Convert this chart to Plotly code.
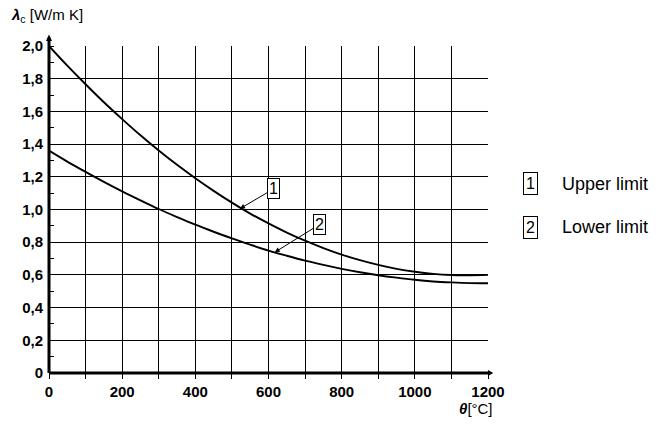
import plotly.graph_objects as go

theta = [0, 50, 100, 150, 200, 250, 300, 350, 400, 450, 500, 550, 600, 650,
         700, 750, 800, 850, 900, 950, 1000, 1050, 1100, 1150, 1200]
upper = [2.000, 1.880, 1.766, 1.656, 1.553, 1.454, 1.361, 1.273, 1.191, 1.114,
         1.042, 0.975, 0.915, 0.859, 0.809, 0.764, 0.724, 0.690, 0.661, 0.637,
         0.619, 0.606, 0.599, 0.598, 0.600]
lower = [1.360, 1.293, 1.230, 1.169, 1.111, 1.056, 1.003, 0.954, 0.907, 0.864,
         0.823, 0.785, 0.749, 0.717, 0.687, 0.661, 0.637, 0.616, 0.598, 0.583,
         0.570, 0.560, 0.554, 0.550, 0.549]

x_tickvals = [0, 200, 400, 600, 800, 1000, 1200]
x_ticktext = ["0", "200", "400", "600", "800", "1000", "1200"]
y_tickvals = [0, 0.2, 0.4, 0.6, 0.8, 1.0, 1.2, 1.4, 1.6, 1.8, 2.0]
y_ticktext = ["0", "0,2", "0,4", "0,6", "0,8", "1,0", "1,2", "1,4", "1,6", "1,8", "2,0"]

labels = ["1", "2"]
names = ["Upper limit", "Lower limit"]

FONT = "Liberation Sans, Arial, sans-serif"

fig = go.Figure()
fig.add_trace(go.Scatter(x=theta, y=upper, mode="lines", line=dict(color="black", width=1.9),
                         line_shape="spline", showlegend=False, hoverinfo="skip"))
fig.add_trace(go.Scatter(x=theta, y=lower, mode="lines", line=dict(color="black", width=1.9),
                         line_shape="spline", showlegend=False, hoverinfo="skip"))

fig.update_layout(
    width=661, height=429,
    margin=dict(l=49, r=173, t=46, b=56),
    paper_bgcolor="white", plot_bgcolor="white",
    font=dict(family=FONT, color="black"),
    xaxis=dict(range=[0, 1200], tickvals=x_tickvals, ticktext=x_ticktext,
               showgrid=True, gridcolor="black", gridwidth=1.4,
               tickfont=dict(size=15, family=FONT, weight="bold"),
               ticks="outside", ticklen=5, tickcolor="black", tickwidth=1.3,
               minor=dict(dtick=100, tick0=0, showgrid=True, gridcolor="black", gridwidth=1.4,
                          ticks="outside", ticklen=5, tickcolor="black"),
               showline=False, zeroline=False, fixedrange=True),
    yaxis=dict(range=[0, 2.0], tickvals=y_tickvals, ticktext=y_ticktext,
               showgrid=True, gridcolor="black", gridwidth=1.4,
               tickfont=dict(size=15, family=FONT, weight="bold"),
               ticks="", ticklabelstandoff=5,
               minor=dict(dtick=0.1, tick0=0, showgrid=False,
                          ticks="inside", ticklen=5, tickcolor="black", tickwidth=1.3),
               showline=False, zeroline=False, fixedrange=True),
)

# axis lines with arrows
fig.add_shape(type="line", xref="paper", yref="paper", x0=0, y0=0, x1=1.0045, y1=0,
              line=dict(color="black", width=3))
fig.add_shape(type="line", xref="paper", yref="paper", x0=0, y0=0, x1=0, y1=1.025,
              line=dict(color="black", width=3))
fig.add_shape(type="path", xref="paper", yref="paper",
              path="M 1.0 0.009 L 1.012 0 L 1.0 -0.009 Z", fillcolor="black", line=dict(width=0))
fig.add_shape(type="path", xref="paper", yref="paper",
              path="M -0.007 1.015 L 0 1.035 L 0.007 1.015 Z", fillcolor="black", line=dict(width=0))

# axis titles
fig.add_annotation(xref="paper", yref="paper", x=-0.09, y=1.092, xanchor="left", yanchor="middle",
                   text="<i><b>λ</b></i><sub>c</sub> [W/m K]", showarrow=False,
                   font=dict(size=15, family=FONT))
fig.add_annotation(xref="paper", yref="paper", x=0.93, y=-0.108, xanchor="left", yanchor="middle",
                   text="<i><b>θ</b></i>[°C]", showarrow=False,
                   font=dict(size=15, family=FONT))

# curve callouts
fig.add_annotation(x=522, y=1.005, xref="x", yref="y",
                   text=labels[0], showarrow=True, ax=34, ay=-20,
                   arrowhead=2, arrowsize=1, arrowwidth=1, arrowcolor="black",
                   bordercolor="black", borderwidth=1, borderpad=1, bgcolor="white",
                   font=dict(size=16, family=FONT))
fig.add_annotation(x=617, y=0.738, xref="x", yref="y",
                   text=labels[1], showarrow=True, ax=45, ay=-28,
                   arrowhead=2, arrowsize=1, arrowwidth=1, arrowcolor="black",
                   bordercolor="black", borderwidth=1, borderpad=1, bgcolor="white",
                   font=dict(size=16, family=FONT))

# key on the right
for i, (lab, nm) in enumerate(zip(labels, names)):
    ypos = 0.578 - i * 0.133
    fig.add_annotation(xref="paper", yref="paper", x=1.097, y=ypos, xanchor="center", yanchor="middle",
                       text=lab, showarrow=False, bordercolor="black", borderwidth=1, borderpad=2,
                       font=dict(size=16, family=FONT))
    fig.add_annotation(xref="paper", yref="paper", x=1.163, y=ypos, xanchor="left", yanchor="middle",
                       text=nm, showarrow=False, font=dict(size=18, family=FONT))

fig.write_html("out.html")
